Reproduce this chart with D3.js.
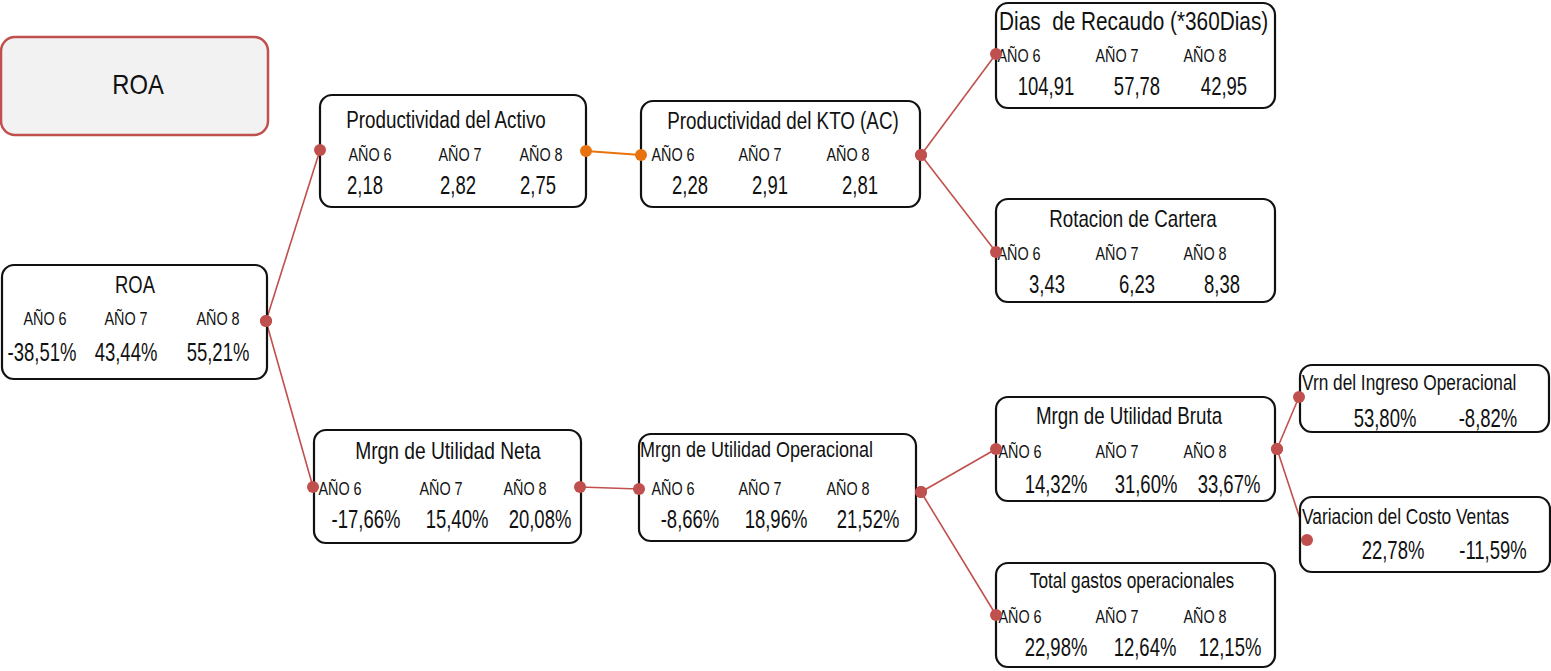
<!DOCTYPE html>
<html>
<head>
<meta charset="utf-8">
<script src="https://cdn.jsdelivr.net/npm/d3@7"></script>
<style>
  html, body { margin: 0; padding: 0; background: #fff; }
  svg { display: block; font-family: "Liberation Sans", Arial, sans-serif; }
  text { white-space: pre; fill: #111; }
  .box { fill: #fff; stroke: #111; stroke-width: 2.2; }
</style>
</head>
<body>
<svg id="viz" width="1551" height="671"></svg>
<script>
/* ROA tree – year values per indicator */

const years = ["AÑO 6", "AÑO 7", "AÑO 8"];

const nodeIds = ["roa", "prodAct", "prodKto", "dias", "rotac", "neta", "oper", "bruta", "gastos", "vrnIng", "varCosto"];

const nodeTitles = [
  "ROA", "Productividad del Activo", "Productividad del KTO (AC)",
  "Dias  de Recaudo (*360Dias)", "Rotacion de Cartera", "Mrgn de Utilidad Neta",
  "Mrgn de Utilidad Operacional", "Mrgn de Utilidad Bruta", "Total gastos operacionales",
  "Vrn del Ingreso Operacional", "Variacion del Costo Ventas"
];

const nodeValues = [
  ["-38,51%", "43,44%", "55,21%"],
  ["2,18", "2,82", "2,75"],
  ["2,28", "2,91", "2,81"],
  ["104,91", "57,78", "42,95"],
  ["3,43", "6,23", "8,38"],
  ["-17,66%", "15,40%", "20,08%"],
  ["-8,66%", "18,96%", "21,52%"],
  ["14,32%", "31,60%", "33,67%"],
  ["22,98%", "12,64%", "12,15%"],
  ["53,80%", "-8,82%"],
  ["22,78%", "-11,59%"]
];

// [source, target, colour]
const links = [
  ["roa", "prodAct", "red"], ["roa", "neta", "red"],
  ["prodAct", "prodKto", "orange"],
  ["prodKto", "dias", "red"], ["prodKto", "rotac", "red"],
  ["neta", "oper", "red"],
  ["oper", "bruta", "red"], ["oper", "gastos", "red"],
  ["bruta", "vrnIng", "red"], ["bruta", "varCosto", "red"]
];

const colors = { red: "#c0504d", orange: "#e8730e" };

// narrow look: regular font squeezed horizontally
const SQ = { title: 0.8, yr: 0.8, val: 0.74 };

/* -- Layout: box geometry, title pos, column centres (relative), dots --- */
// tx: left offset for left-aligned titles; tc: centre of centred titles
const layout = {
  roa:      { x: 2,    y: 265, w: 265, h: 114, ty: 293, yy: 325, vy: 361, tc: 133, ts: 23,
              yrX: [43, 124, 216], valX: [40, 124, 216], out: [266, 321] },
  prodAct:  { x: 320,  y: 95,  w: 266, h: 112, ty: 128, yy: 161, vy: 194, tc: 126, ts: 23.5,
              yrX: [50, 140, 221], valX: [45, 138, 218], in: [320, 150], out: [586, 151] },
  prodKto:  { x: 641,  y: 101, w: 279, h: 106, ty: 129, yy: 161, vy: 194, tc: 142, ts: 23.5,
              yrX: [32, 119, 207], valX: [49, 129, 219], in: [641, 155], out: [921, 155] },
  dias:     { x: 996,  y: 3,   w: 279, h: 105, ty: 30,  yy: 62,  vy: 95,  tx: 3,    ts: 26,
              yrX: [23, 121, 209], valX: [50, 141, 228], in: [996, 54] },
  rotac:    { x: 996,  y: 199, w: 279, h: 103, ty: 227, yy: 260, vy: 293, tc: 137, ts: 23.4,
              yrX: [23, 121, 209], valX: [51, 141, 226], in: [996, 252] },
  neta:     { x: 314,  y: 430, w: 267, h: 113, ty: 459, yy: 495, vy: 528, tc: 134, ts: 24,
              yrX: [26, 127, 211], valX: [52, 143, 226], in: [313, 487], out: [580, 487] },
  oper:     { x: 639,  y: 434, w: 277, h: 107, ty: 457, yy: 495, vy: 528, tx: 1,    ts: 22.5,
              yrX: [34, 121, 209], valX: [51, 137, 229], in: [639, 489], out: [921, 492] },
  bruta:    { x: 996,  y: 397, w: 279, h: 104, ty: 424, yy: 458, vy: 493, tc: 133, ts: 23.4,
              yrX: [24, 121, 209], valX: [60, 150, 233], in: [996, 449], out: [1277, 449] },
  gastos:   { x: 996,  y: 563, w: 279, h: 104, ty: 588, yy: 623, vy: 656, tc: 136, ts: 21.6,
              yrX: [24, 121, 209], valX: [60, 149, 234], in: [996, 615] },
  vrnIng:   { x: 1300, y: 365, w: 249, h: 67,  ty: 390, yy: null, vy: 427, tx: 2,   ts: 21.6,
              yrX: [], valX: [85, 188], in: [1299, 397] },
  varCosto: { x: 1300, y: 497, w: 250, h: 75,  ty: 524, yy: null, vy: 559, tx: 2,   ts: 21.7,
              yrX: [], valX: [93, 193], in: [1307, 540] }
};

const nodes = nodeIds.map((id, i) => ({ id, title: nodeTitles[i], values: nodeValues[i], ...layout[id] }));
const byId = new Map(nodes.map(n => [n.id, n]));

const svg = d3.select("#viz");

const squeeze = (x, y, s) => `translate(${x},${y}) scale(${s},1)`;

/* -- Header box --------------------------------------------------------- */
const head = svg.append("g");
head.append("rect")
  .attr("x", 1).attr("y", 37).attr("width", 267).attr("height", 98)
  .attr("rx", 14).attr("ry", 14)
  .attr("fill", "#f2f2f2").attr("stroke", colors.red).attr("stroke-width", 2.5);
head.append("text")
  .attr("transform", squeeze(138, 94, 0.85))
  .attr("text-anchor", "middle")
  .attr("font-size", 28)
  .text("ROA");

/* -- Links (drawn under boxes) ----------------------------------------- */
svg.append("g").selectAll("line")
  .data(links)
  .join("line")
    .attr("x1", d => byId.get(d[0]).out[0])
    .attr("y1", d => byId.get(d[0]).out[1])
    .attr("x2", d => byId.get(d[1]).in[0])
    .attr("y2", d => byId.get(d[1]).in[1])
    .attr("stroke", d => colors[d[2]])
    .attr("stroke-width", d => d[2] === "orange" ? 2.2 : 1.6);

/* -- Boxes -------------------------------------------------------------- */
const g = svg.append("g").selectAll("g")
  .data(nodes)
  .join("g");

g.append("rect")
  .attr("class", "box")
  .attr("x", d => d.x).attr("y", d => d.y)
  .attr("width", d => d.w).attr("height", d => d.h)
  .attr("rx", 12).attr("ry", 12);

g.append("text")
  .attr("transform", d => squeeze(d.tx == null ? d.x + d.tc : d.x + d.tx, d.ty, SQ.title))
  .attr("text-anchor", d => d.tx == null ? "middle" : "start")
  .attr("font-size", d => d.ts)
  .text(d => d.title);

g.selectAll("text.yr")
  .data(d => d.yrX.map((ox, i) => ({ x: d.x + ox, y: d.yy, t: years[i] })))
  .join("text")
    .attr("class", "yr")
    .attr("transform", d => squeeze(d.x, d.y, SQ.yr))
    .attr("text-anchor", "middle")
    .attr("font-size", 18)
    .text(d => d.t);

g.selectAll("text.val")
  .data(d => d.valX.map((ox, i) => ({ x: d.x + ox, y: d.vy, t: d.values[i] })))
  .join("text")
    .attr("class", "val")
    .attr("transform", d => squeeze(d.x, d.y, SQ.val))
    .attr("text-anchor", "middle")
    .attr("font-size", 25)
    .text(d => d.t);

/* -- Anchor dots -------------------------------------------------------- */
const dots = [];
links.forEach(([s, t, c]) => {
  dots.push({ p: byId.get(s).out, c });
  dots.push({ p: byId.get(t).in, c });
});
svg.append("g").selectAll("circle")
  .data(dots)
  .join("circle")
    .attr("cx", d => d.p[0]).attr("cy", d => d.p[1])
    .attr("r", 6)
    .attr("fill", d => colors[d.c]);
</script>
</body>
</html>
